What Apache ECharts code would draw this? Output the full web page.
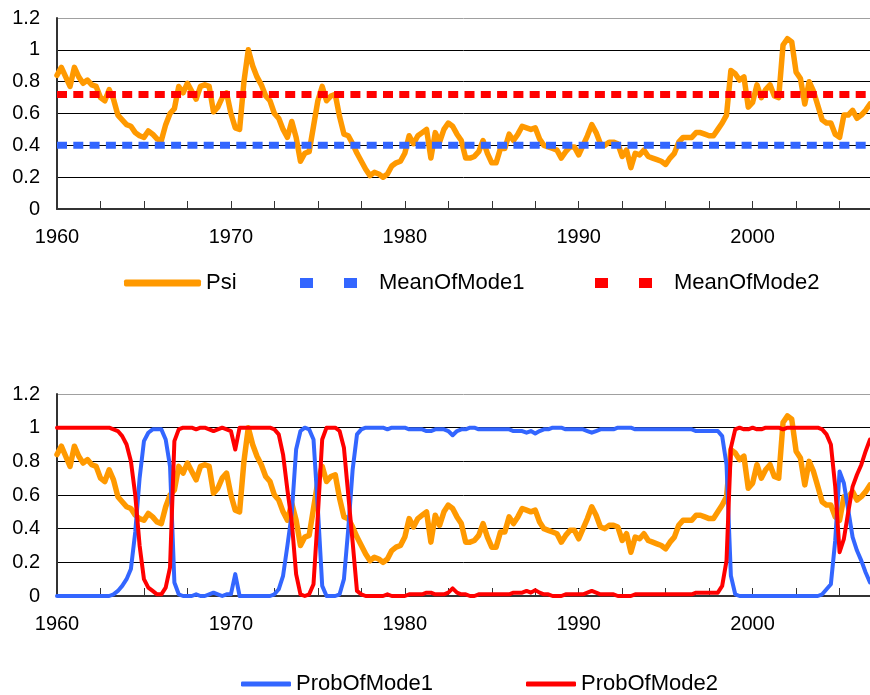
<!DOCTYPE html>
<html>
<head>
<meta charset="utf-8">
<script src="https://cdn.jsdelivr.net/npm/echarts@6/dist/echarts.min.js"></script>
<style>
  html, body { margin: 0; padding: 0; background: #fff; }
  #chart { width: 870px; height: 695px; }
</style>
</head>
<body>
<div id="chart"></div>
<script>
// quarterly categories, 1960Q1 .. 2006Q4
var quarters = [];
for (var yr = 1960; yr <= 2006; yr++) {
  for (var q = 1; q <= 4; q++) quarters.push(yr + 'Q' + q);
}

var psi = [
  0.84, 0.89, 0.83, 0.77, 0.89, 0.83, 0.79, 0.81, 0.78, 0.77,
  0.70, 0.68, 0.75, 0.69, 0.59, 0.56, 0.53, 0.52, 0.48, 0.46,
  0.45, 0.49, 0.47, 0.44, 0.43, 0.53, 0.60, 0.63, 0.77, 0.73,
  0.79, 0.74, 0.69, 0.77, 0.78, 0.77, 0.61, 0.64, 0.70, 0.73,
  0.60, 0.51, 0.50, 0.80, 1.00, 0.90, 0.83, 0.78, 0.71, 0.68,
  0.60, 0.57, 0.50, 0.45, 0.55, 0.45, 0.30, 0.35, 0.36, 0.52,
  0.68, 0.77, 0.68, 0.71, 0.72, 0.58, 0.47, 0.46, 0.41, 0.35,
  0.30, 0.25, 0.21, 0.23, 0.22, 0.20, 0.22, 0.27, 0.29, 0.30,
  0.35, 0.46, 0.41, 0.46, 0.48, 0.50, 0.32, 0.48, 0.42, 0.50,
  0.54, 0.52, 0.47, 0.43, 0.32, 0.32, 0.33, 0.36, 0.43, 0.35,
  0.29, 0.29, 0.38, 0.38, 0.47, 0.43, 0.47, 0.52, 0.51, 0.50,
  0.51, 0.44, 0.40, 0.39, 0.38, 0.37, 0.32, 0.36, 0.39, 0.39,
  0.34, 0.40, 0.46, 0.53, 0.48, 0.41, 0.40, 0.42, 0.42, 0.41,
  0.33, 0.37, 0.26, 0.35, 0.34, 0.37, 0.33, 0.32, 0.31, 0.30,
  0.28, 0.32, 0.35, 0.42, 0.45, 0.45, 0.45, 0.48, 0.48, 0.47,
  0.46, 0.46, 0.50, 0.54, 0.59, 0.87, 0.85, 0.81, 0.83, 0.64,
  0.67, 0.78, 0.70, 0.75, 0.78, 0.71, 0.70, 1.03, 1.07, 1.05,
  0.86, 0.82, 0.66, 0.80, 0.74, 0.65, 0.56, 0.54, 0.54, 0.47,
  0.45, 0.59, 0.59, 0.62, 0.57, 0.59, 0.62, 0.66
];

var meanOfMode1 = 0.40;
var meanOfMode2 = 0.72;

var probOfMode1 = [
  0, 0, 0, 0, 0, 0, 0, 0, 0, 0,
  0, 0, 0, 0.01, 0.03, 0.06, 0.10, 0.16, 0.38, 0.70,
  0.92, 0.97, 0.99, 0.99, 0.99, 0.93, 0.77, 0.08, 0.01, 0,
  0, 0, 0.01, 0, 0, 0.01, 0.02, 0.01, 0, 0.01,
  0.01, 0.13, 0, 0, 0, 0, 0, 0, 0, 0,
  0.01, 0.04, 0.12, 0.30, 0.49, 0.87, 0.98, 1.00, 0.99, 0.93,
  0.52, 0.06, 0, 0, 0, 0.01, 0.10, 0.40, 0.75, 0.96,
  0.99, 1.00, 1.00, 1.00, 1.00, 1.00, 0.99, 1.00, 1.00, 1.00,
  1.00, 0.99, 0.99, 0.99, 0.99, 0.98, 0.98, 0.99, 0.99, 0.99,
  0.98, 0.955, 0.98, 0.99, 0.99, 1.00, 1.00, 0.99, 0.99, 0.99,
  0.99, 0.99, 0.99, 0.99, 0.99, 0.98, 0.98, 0.98, 0.97, 0.98,
  0.965, 0.98, 0.99, 0.99, 1.00, 1.00, 1.00, 0.99, 0.99, 0.99,
  0.99, 0.99, 0.98, 0.97, 0.98, 0.99, 0.99, 0.99, 0.99, 1.00,
  1.00, 1.00, 1.00, 0.99, 0.99, 0.99, 0.99, 0.99, 0.99, 0.99,
  0.99, 0.99, 0.99, 0.99, 0.99, 0.99, 0.99, 0.98, 0.98, 0.98,
  0.98, 0.98, 0.98, 0.95, 0.78, 0.12, 0.01, 0, 0, 0,
  0, 0, 0, 0, 0, 0, 0, 0, 0, 0,
  0, 0, 0, 0, 0, 0, 0.01, 0.04, 0.07, 0.33,
  0.74, 0.67, 0.51, 0.35, 0.27, 0.21, 0.14, 0.08
];

var probOfMode2 = [
  1.00, 1.00, 1.00, 1.00, 1.00, 1.00, 1.00, 1.00, 1.00, 1.00,
  1.00, 1.00, 1.00, 0.99, 0.98, 0.95, 0.90, 0.80, 0.60, 0.30,
  0.10, 0.05, 0.03, 0.01, 0.01, 0.05, 0.17, 0.92, 0.99, 1.00,
  1.00, 1.00, 0.99, 1.00, 1.00, 0.99, 0.98, 0.99, 1.00, 0.99,
  0.98, 0.87, 1.00, 1.00, 1.00, 1.00, 1.00, 1.00, 1.00, 1.00,
  0.99, 0.96, 0.84, 0.63, 0.44, 0.13, 0.01, 0, 0.01, 0.07,
  0.48, 0.93, 1.00, 1.00, 1.00, 0.98, 0.88, 0.60, 0.32, 0.03,
  0.01, 0, 0, 0, 0, 0, 0.01, 0, 0, 0,
  0, 0.01, 0.01, 0.01, 0.01, 0.02, 0.02, 0.01, 0.01, 0.01,
  0.02, 0.045, 0.02, 0.01, 0.01, 0, 0, 0.01, 0.01, 0.01,
  0.01, 0.01, 0.01, 0.01, 0.01, 0.02, 0.02, 0.02, 0.03, 0.02,
  0.035, 0.02, 0.01, 0.01, 0, 0, 0, 0.01, 0.01, 0.01,
  0.01, 0.01, 0.02, 0.03, 0.02, 0.01, 0.01, 0.01, 0.01, 0,
  0, 0, 0, 0.01, 0.01, 0.01, 0.01, 0.01, 0.01, 0.01,
  0.01, 0.01, 0.01, 0.01, 0.01, 0.01, 0.01, 0.02, 0.02, 0.02,
  0.02, 0.02, 0.02, 0.06, 0.21, 0.88, 0.99, 1.00, 0.99, 0.99,
  1.00, 0.99, 0.99, 1.00, 1.00, 1.00, 1.00, 0.99, 1.00, 1.00,
  1.00, 1.00, 1.00, 1.00, 1.00, 1.00, 0.99, 0.96, 0.90, 0.65,
  0.26, 0.34, 0.50, 0.65, 0.72, 0.78, 0.86, 0.93
];

var FONT = 'Liberation Sans, Arial, sans-serif';
var ORANGE = '#FF9900', BLUE = '#3366FF', RED = '#FF0000';

function xAxisFor(gridIndex) {
  return {
    type: 'category',
    gridIndex: gridIndex,
    data: quarters,
    boundaryGap: false,
    axisLine: { lineStyle: { color: '#333', width: 2 } },
    axisTick: { inside: true, length: 8, interval: 9, lineStyle: { color: '#333', width: 1 } },
    axisLabel: {
      interval: 39, margin: 18, color: '#000', fontSize: 20, fontFamily: FONT,
      formatter: function (v) { return v.slice(0, 4); }
    },
    splitLine: { show: false }
  };
}

function yAxisFor(gridIndex) {
  return {
    type: 'value',
    gridIndex: gridIndex,
    min: 0, max: 1.2, interval: 0.2,
    axisLine: { show: true, lineStyle: { color: '#333', width: 2 } },
    axisTick: { show: false },
    axisLabel: { margin: 17, color: '#000', fontSize: 20, fontFamily: FONT },
    splitLine: {
      lineStyle: { color: ['#000', '#000', '#000', '#000', '#000', '#000', '#a0a0a0'], width: 1 }
    }
  };
}

function legendFor(name, left, top, icon, w, h, padLeft) {
  return {
    data: [name],
    left: left, top: top,
    icon: icon, itemWidth: w, itemHeight: h,
    selectedMode: false,
    textStyle: { fontSize: 22, fontFamily: FONT, color: '#000', lineHeight: 24, padding: [0, 0, 0, padLeft] }
  };
}

var twoSquares = 'path://M0,0h13v10h-13z M44,0h13v10h-13z';

var chart = echarts.init(document.getElementById('chart'));
chart.setOption({
  animation: false,
  backgroundColor: '#fff',
  grid: [
    { left: 57, top: 18, width: 813, height: 191 },
    { left: 57, top: 394, width: 813, height: 202 }
  ],
  xAxis: [xAxisFor(0), xAxisFor(1)],
  yAxis: [yAxisFor(0), yAxisFor(1)],
  legend: [
    legendFor('Psi', 119, 266, 'roundRect', 77, 7, 0),
    legendFor('MeanOfMode1', 295, 266, twoSquares, 57, 10, 17),
    legendFor('MeanOfMode2', 590, 266, twoSquares, 57, 10, 17),
    legendFor('ProbOfMode1', 236, 667, 'roundRect', 50, 5, 0),
    legendFor('ProbOfMode2', 521, 667, 'roundRect', 50, 5, 0)
  ],
  series: [
    {
      name: 'Psi', type: 'line', xAxisIndex: 0, yAxisIndex: 0,
      data: psi, showSymbol: false, symbol: 'none',
      itemStyle: { color: ORANGE },
      lineStyle: { color: ORANGE, width: 5.5, join: 'round', cap: 'round' }
    },
    {
      name: 'MeanOfMode1', type: 'line', xAxisIndex: 0, yAxisIndex: 0,
      data: quarters.map(function () { return meanOfMode1; }),
      showSymbol: false, symbol: 'none',
      itemStyle: { color: BLUE },
      lineStyle: { color: BLUE, width: 7, type: [10, 6.3], cap: 'butt' }
    },
    {
      name: 'MeanOfMode2', type: 'line', xAxisIndex: 0, yAxisIndex: 0,
      data: quarters.map(function () { return meanOfMode2; }),
      showSymbol: false, symbol: 'none',
      itemStyle: { color: RED },
      lineStyle: { color: RED, width: 7, type: [10, 6.3], cap: 'butt' }
    },
    {
      name: 'Psi', type: 'line', xAxisIndex: 1, yAxisIndex: 1,
      data: psi, showSymbol: false, symbol: 'none',
      itemStyle: { color: ORANGE },
      lineStyle: { color: ORANGE, width: 5.5, join: 'round', cap: 'round' }
    },
    {
      name: 'ProbOfMode1', type: 'line', xAxisIndex: 1, yAxisIndex: 1,
      data: probOfMode1, showSymbol: false, symbol: 'none',
      itemStyle: { color: BLUE },
      lineStyle: { color: BLUE, width: 4, join: 'round', cap: 'round' }
    },
    {
      name: 'ProbOfMode2', type: 'line', xAxisIndex: 1, yAxisIndex: 1,
      data: probOfMode2, showSymbol: false, symbol: 'none',
      itemStyle: { color: RED },
      lineStyle: { color: RED, width: 4, join: 'round', cap: 'round' }
    }
  ]
});
</script>
</body>
</html>
